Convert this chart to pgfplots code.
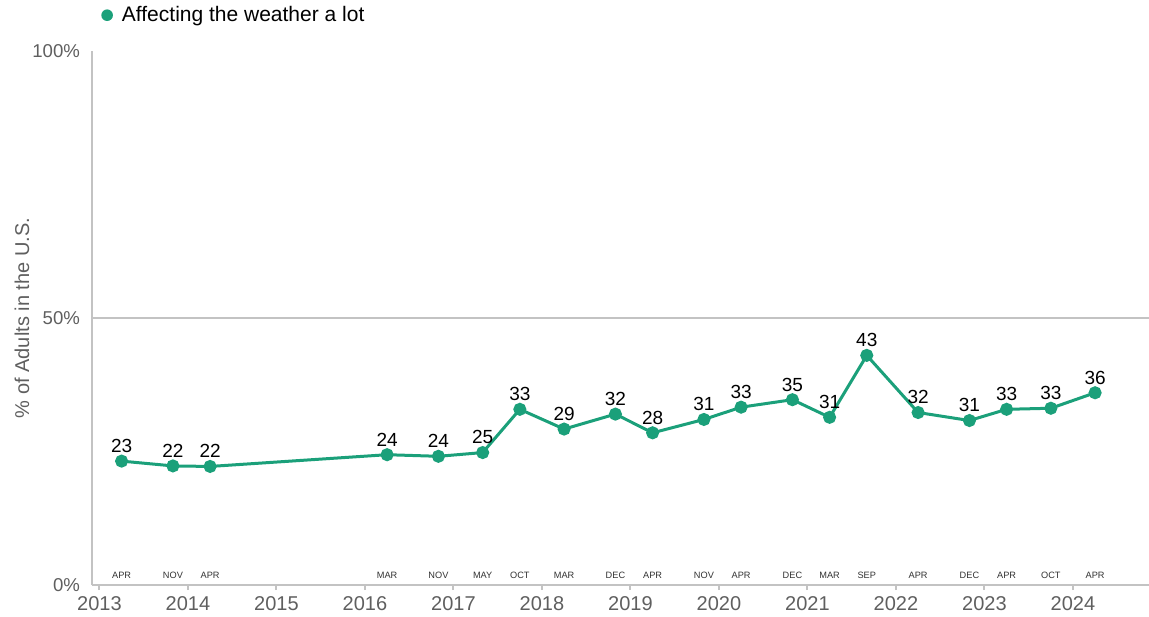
\documentclass[border=0pt]{standalone}
\usepackage{pgfplots}
\pgfplotsset{compat=1.18}
\usepackage{pgfplotstable}
\usepackage{fontspec}
\setmainfont{Liberation Sans}
\definecolor{teal1}{RGB}{27,160,122}
\definecolor{axisgray}{RGB}{195,195,195}
\definecolor{labelgray}{RGB}{95,95,95}
\definecolor{mongray}{RGB}{50,50,50}

\pgfplotstableread{
x y lab mon
2013.25 23.2 23 APR
2013.83 22.3 22 NOV
2014.25 22.2 22 APR
2016.25 24.4 24 MAR
2016.83 24.1 24 NOV
2017.33 24.8 25 MAY
2017.75 32.9 33 OCT
2018.25 29.2 29 MAR
2018.83 32.0 32 DEC
2019.25 28.5 28 APR
2019.83 31.0 31 NOV
2020.25 33.3 33 APR
2020.83 34.7 35 DEC
2021.25 31.4 31 MAR
2021.67 43.0 43 SEP
2022.25 32.3 32 APR
2022.83 30.8 31 DEC
2023.25 32.9 33 APR
2023.75 33.1 33 OCT
2024.25 36.0 36 APR
}\data

\begin{document}
\begin{tikzpicture}
\begin{axis}[
  x=44.25pt, y=2.67pt,
  xmin=2012.915, xmax=2024.859,
  ymin=0, ymax=100,
  enlargelimits=false,
  clip=false,
  axis x line*=bottom,
  axis y line*=left,
  axis line style={axisgray, line width=0.75pt},
  xtick={2013,2014,2015,2016,2017,2018,2019,2020,2021,2022,2023,2024},
  xticklabels={2013,2014,2015,2016,2017,2018,2019,2020,2021,2022,2023,2024},
  x tick style={axisgray, line width=1pt},
  major tick length=2.5pt,
  tick align=outside,
  xticklabel style={font=\fontsize{10}{11}\selectfont, text=labelgray, yshift=0.5pt},
  ytick={0,50,100},
  yticklabels={0\%,50\%,100\%},
  y tick style={draw=none},
  yticklabel style={font=\fontsize{9.3}{10}\selectfont, text=labelgray},
  extra y ticks={50},
  extra y tick labels={},
  extra y tick style={grid=major, major grid style={axisgray, line width=0.75pt}},
  ylabel={\% of Adults in the U.S.},
  every axis y label/.style={at={(rel axis cs:0,0.5)}, xshift=-35pt, rotate=90, anchor=center, font=\fontsize{10}{11}\selectfont, text=labelgray},
  legend style={at={(0.0085,1.067)}, anchor=west, draw=none, fill=none, inner sep=0pt, font=\fontsize{10.5}{12}\selectfont},
  legend image code/.code={\fill[teal1, draw=none] (0,0) circle (2.9pt);},
  legend cell align=left,
]
\addplot[teal1, line width=1.5pt, mark=*, mark size=2.5pt,
  nodes near coords, point meta=explicit symbolic,
  every node near coord/.append style={anchor=south, inner sep=0pt, yshift=3.5pt, text=black, font=\fontsize{9.5}{10}\selectfont}]
  table[x=x, y=y, meta=lab] {\data};
\addlegendentry{\hspace{2.5pt}Affecting the weather a lot}
\addplot[draw=none, forget plot, mark=none,
  nodes near coords, point meta=explicit symbolic,
  every node near coord/.append style={anchor=center, inner sep=0pt, text=mongray, font=\fontsize{4.6}{5}\selectfont}]
  table[x=x, y expr=1.87, meta=mon] {\data};
\coordinate (bl) at (axis cs:2011.876,-5.99);
\coordinate (tr) at (axis cs:2024.859,109.55);
\end{axis}
\pgfresetboundingbox
\path (bl) rectangle (tr);
\end{tikzpicture}
\end{document}
